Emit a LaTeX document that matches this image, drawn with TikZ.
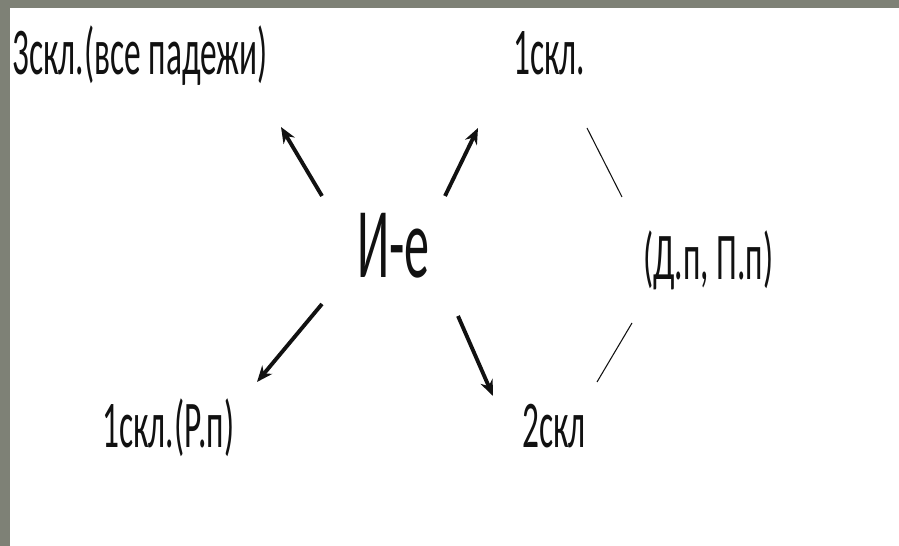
\documentclass[tikz,border=0pt]{standalone}
\usepackage{fontspec}
\setmainfont{Carlito}[FakeStretch=0.5]
\usepackage{xcolor}
\usetikzlibrary{arrows.meta}
\definecolor{frame}{HTML}{7E8176}
\definecolor{ink}{HTML}{111111}

\begin{document}
\begin{tikzpicture}[x=0.02cm, y=-0.02cm,
  lbl/.style={inner sep=0pt, anchor=base west, text=ink, font=\fontsize{38}{40}\selectfont},
  big/.style={lbl, font=\fontsize{57}{60}\selectfont},
  arr/.style={-{Stealth[length=3.2mm, width=2.6mm]}, line width=2.2pt, ink},
  thin/.style={line width=0.6pt, ink}]
  \useasboundingbox (0,0) rectangle (899,546);
  \fill[frame] (0,0) rectangle (899,546);
  \fill[white] (10,8) rectangle (899,546);
  % labels
  \node[lbl] (s3)  at (12,75)   {3скл.(все падежи)};
  \node[lbl] (s1)  at (513,75)  {1скл.};
  \node[big] (ie)  at (357,278) {И-е};
  \node[lbl] (dp)  at (643,280) {(Д.п, П.п)};
  \node[lbl] (s1r) at (102,448) {1скл.(Р.п)};
  \node[lbl] (s2)  at (522,448) {2скл};
  % arrow ends
  \coordinate (a3t) at (322,196); \coordinate (a3h) at (281,127);
  \coordinate (a1t) at (445,196); \coordinate (a1h) at (478,128);
  \coordinate (art) at (322,304); \coordinate (arh) at (257,382);
  \coordinate (a2t) at (458,316); \coordinate (a2h) at (493,396);
  \coordinate (l1a) at (587,128); \coordinate (l1b) at (622,197);
  \coordinate (l2a) at (632,323); \coordinate (l2b) at (597,382);
  \draw[arr] (a3t) -- (a3h); \draw[arr] (a1t) -- (a1h);
  \draw[arr] (art) -- (arh); \draw[arr] (a2t) -- (a2h);
  \draw[thin] (l1a) -- (l1b); \draw[thin] (l2a) -- (l2b);
\end{tikzpicture}
\end{document}
